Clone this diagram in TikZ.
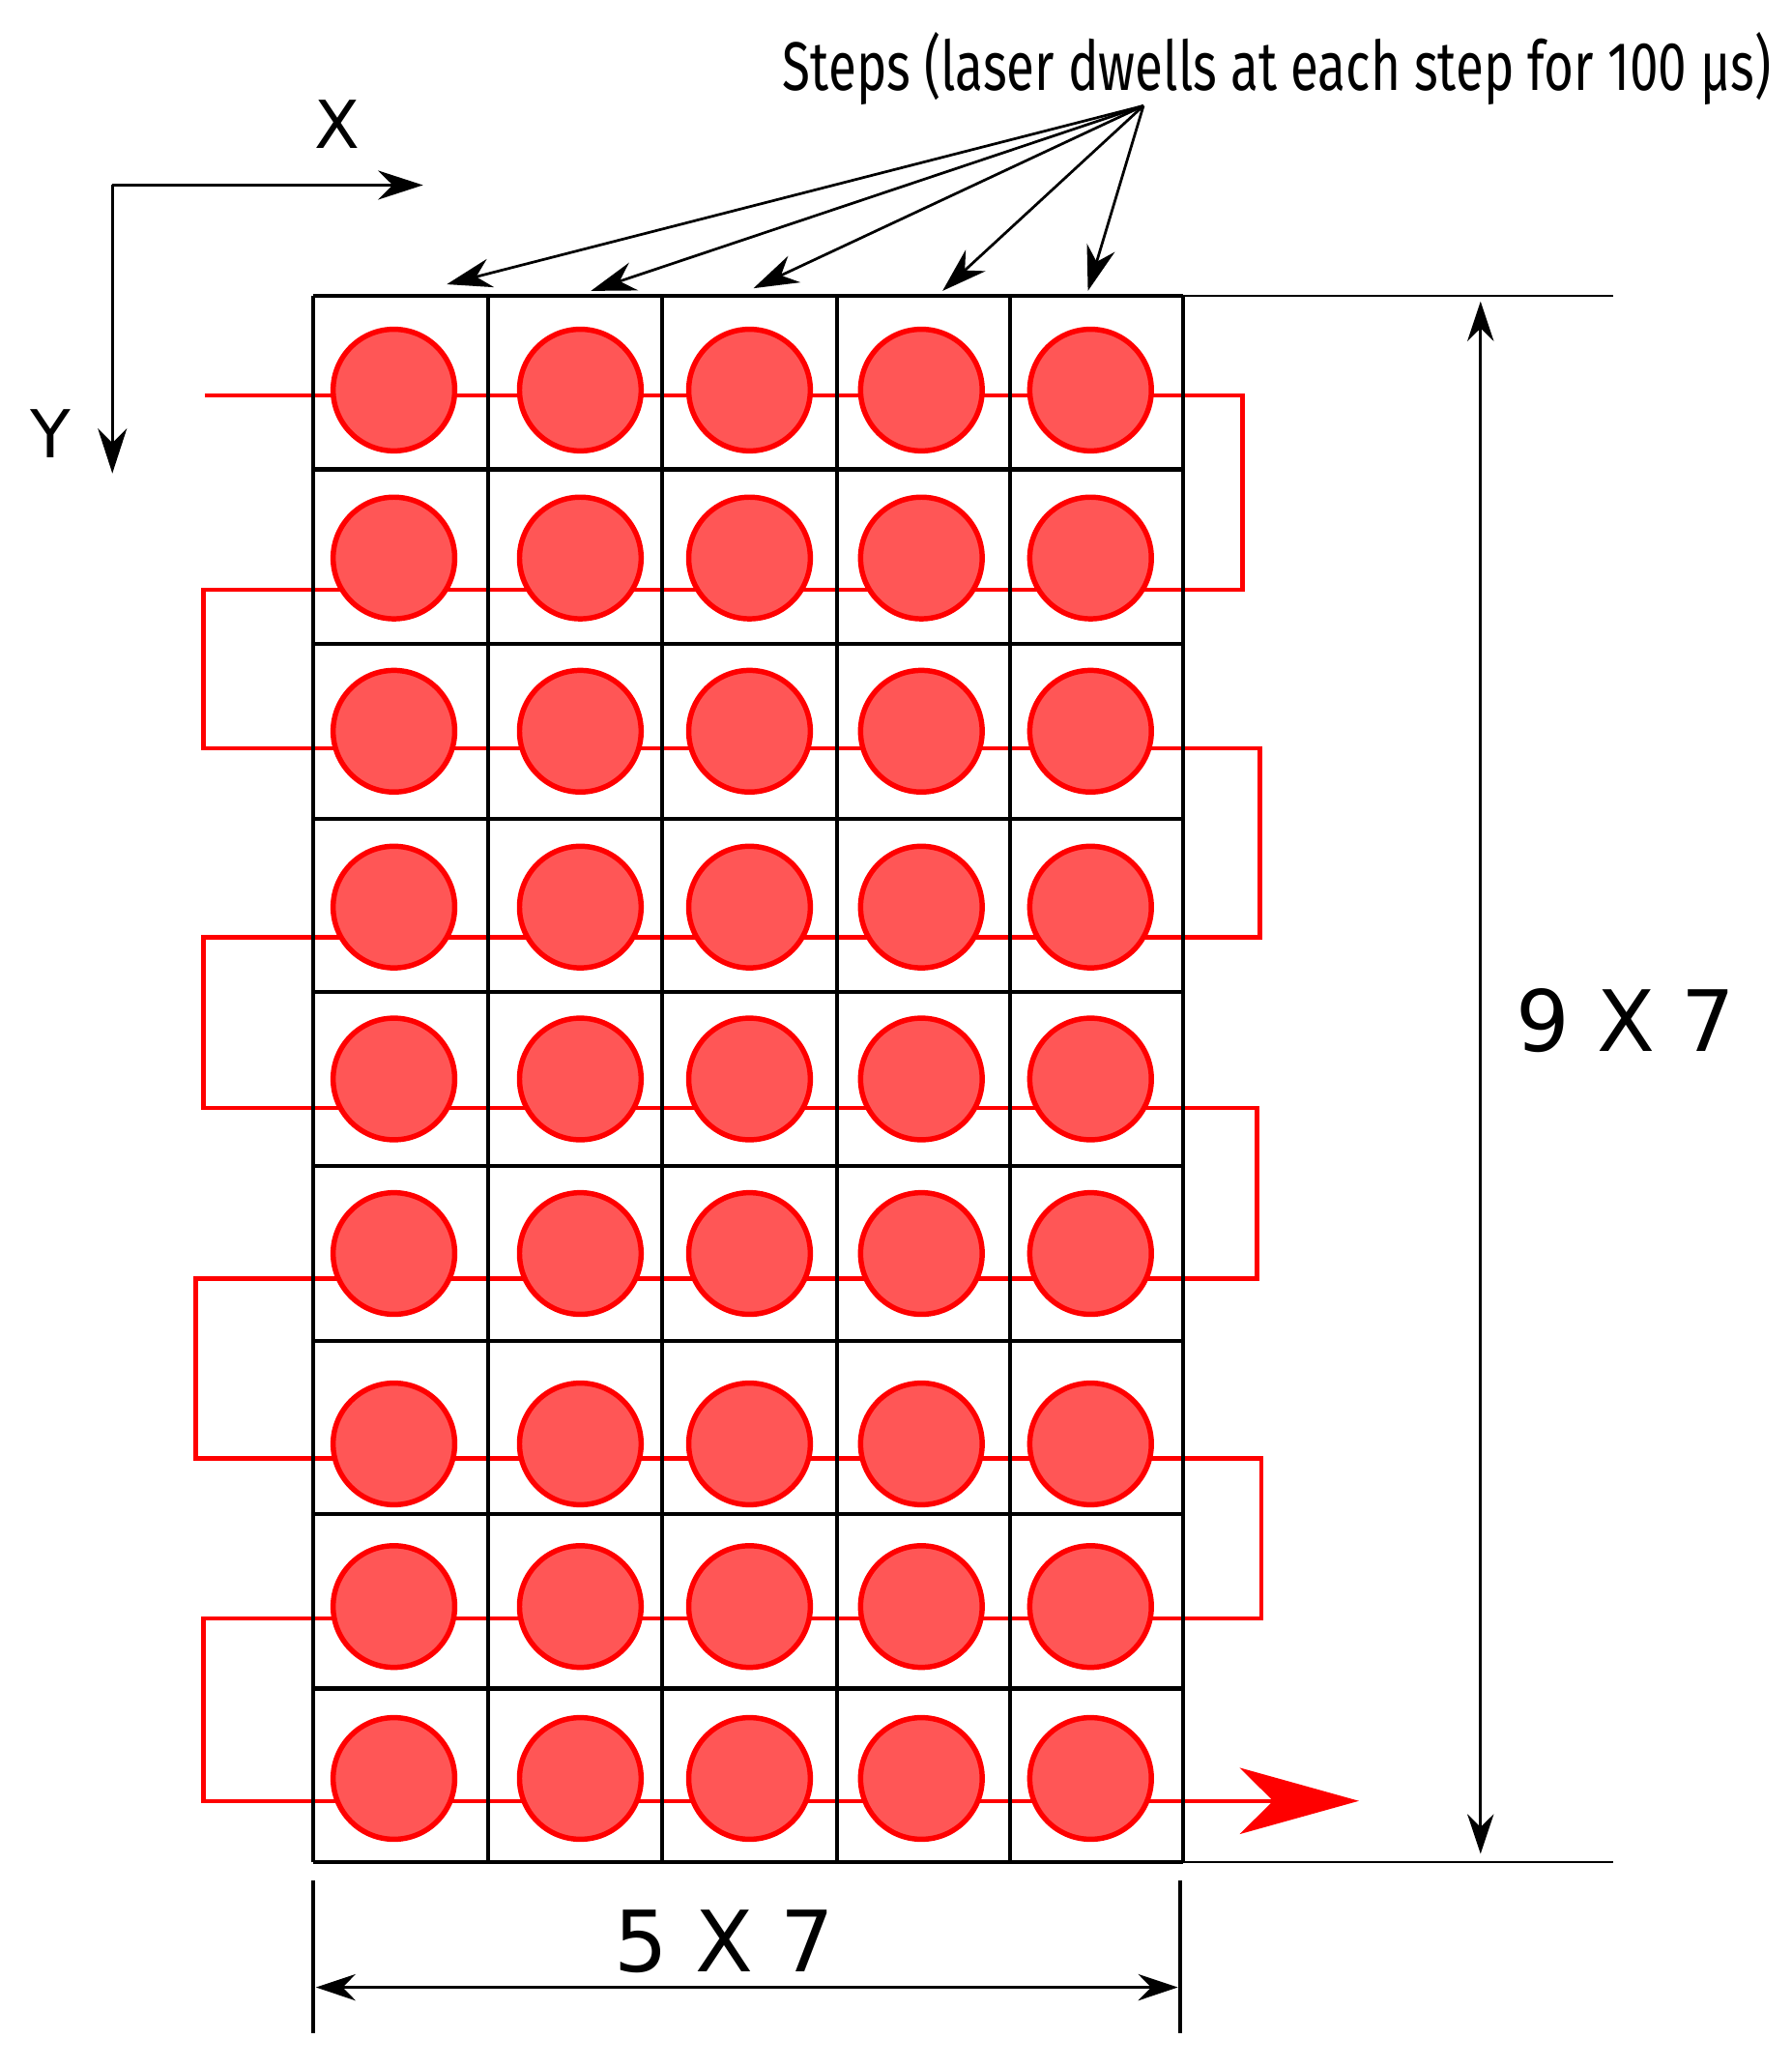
\documentclass[tikz,border=0pt]{standalone}
\usepackage{fontspec}
\setmainfont{DejaVu Sans}
\newfontfamily\narrowf{Fira Sans}
\usetikzlibrary{arrows.meta}
\definecolor{dotfill}{HTML}{FF5656}
\begin{document}
\begin{tikzpicture}[x=1pt,y=-1pt,
  grid/.style={line width=3pt,black},
  redline/.style={line width=3.2pt,red},
  dot/.style={circle,draw=red,fill=dotfill,line width=4pt,minimum size=92pt,inner sep=0pt},
  blk/.style={line width=2pt,black},
  tip/.style={-{Stealth[length=34pt,width=22pt]}},
  tips/.style={{Stealth[length=30pt,width=20pt]}-{Stealth[length=30pt,width=20pt]}}]
\useasboundingbox (0,0) rectangle (1355,1564);
% red serpentine path
\coordinate (s) at (155,299);
\coordinate (e) at (1028,1362);
\draw[redline,line join=miter] (s) -- (895,299) -- (940,299) -- (940,446) -- (154,446) -- (154,566) -- (953,566) -- (953,709)
  -- (154,709) -- (154,838) -- (951,838) -- (951,967) -- (148,967) -- (148,1103) -- (954,1103) -- (954,1224)
  -- (154,1224) -- (154,1362) -- (900,1362);
\draw[redline,-{Stealth[length=90pt,width=50pt,inset=25pt]}] (895,1362) -- (e);
% grid
\foreach \x in {237,369,501,633,764,895} \draw[grid] (\x,224) -- (\x,1408);
\foreach \y in {224,355,487,619,750,882,1014,1145,1277,1408} \draw[grid] (237,\y) -- (895,\y);
% dots
\foreach \cy [count=\r] in {295,422,553,686,816,948,1092,1215,1345}
  \foreach \cx [count=\c] in {298,439,567,697,825}
    \node[dot] (c\r-\c) at (\cx,\cy) {};
% axes
\coordinate (o) at (85,140);
\coordinate (xe) at (320,140);
\coordinate (ye) at (85,358);
\draw[blk,tip] (o) -- (xe);
\draw[blk,tip] (o) -- (ye);
\node (xl) at (255,94) {\fontsize{50}{50}\selectfont X};
\node (yl) at (38,328) {\fontsize{50}{50}\selectfont Y};
% title & step arrows
\node (t) at (966,52) {\narrowf\fontsize{52}{52}\selectfont\scalebox{0.745}[1]{Steps (laser dwells at each step for 100 µs)}};
\coordinate (tp) at (865,80);
\foreach \px/\py [count=\i] in {338/215,447/220,570/218,713/220,823/220}{
  \coordinate (p\i) at (\px,\py);
  \draw[blk,tip] (tp) -- (p\i);}
% dimensions
\coordinate (d1) at (1220,224); \coordinate (d2) at (1220,1408);
\draw[line width=1.5pt] (895,224) -- (d1);
\draw[line width=1.5pt] (895,1408) -- (d2);
\coordinate (va) at (1120,228); \coordinate (vb) at (1120,1402);
\draw[blk,tips] (va) -- (vb);
\node (nine) at (1230,772) {\fontsize{64}{64}\selectfont 9 X 7};
\draw[line width=3pt] (237,1422) -- (237,1538);
\draw[line width=3pt] (893,1422) -- (893,1538);
\coordinate (ha) at (239,1503); \coordinate (hb) at (891,1503);
\draw[blk,tips] (ha) -- (hb);
\node (five) at (548,1468) {\fontsize{64}{64}\selectfont 5 X 7};
\end{tikzpicture}
\end{document}
